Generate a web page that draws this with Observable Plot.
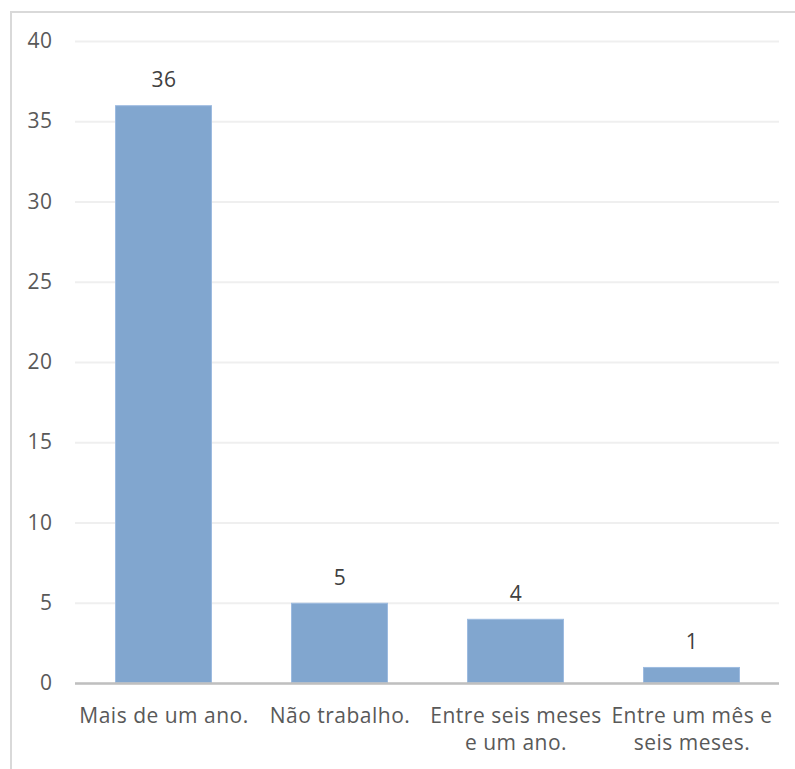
<!DOCTYPE html>
<html>
<head>
<meta charset="utf-8">
<script src="https://cdn.jsdelivr.net/npm/d3@7"></script>
<script src="https://cdn.jsdelivr.net/npm/@observablehq/plot@0.6"></script>
<style>
  html, body { margin: 0; padding: 0; background: #fff; }
  #wrap { position: relative; width: 795px; height: 769px; overflow: hidden; }
  #frame { position: absolute; left: 10px; top: 11px; width: 800px; height: 800px;
           border-left: 2px solid #d9d9d9; border-top: 2px solid #d9d9d9; box-sizing: border-box; }
  #chart { position: absolute; left: 0; top: 0; }
</style>
</head>
<body>
<div id="wrap"><div id="frame"></div><div id="chart"></div></div>
<script>
// Time working, number of respondents per answer
const categories = ["Mais de um ano.", "Não trabalho.", "Entre seis meses\ne um ano.", "Entre um mês e\nseis meses."];
const counts = [36, 5, 4, 1];
const yTicks = [0, 5, 10, 15, 20, 25, 30, 35, 40];

const data = categories.map((c, i) => ({category: c, count: counts[i]}));

const font = "'Open Sans', sans-serif";
const textColor = "#595959";

const chart = Plot.plot({
  width: 795,
  height: 769,
  marginLeft: 75,
  marginRight: 16,
  marginTop: 41,
  marginBottom: 86,
  style: {fontFamily: font, fontSize: "21px", letterSpacing: "0.5px", color: textColor, background: "transparent"},
  x: {domain: categories, paddingInner: 0.45, paddingOuter: 0.225, label: null},
  y: {domain: [0, 40], label: null},
  marks: [
    Plot.gridY(yTicks, {stroke: "#efefef", strokeOpacity: 1, strokeWidth: 2}),
    Plot.axisY(yTicks, {tickSize: 0, tickPadding: 23, fontSize: 21, fill: textColor, label: null}),
    Plot.axisX({tickSize: 0, tickPadding: 21, fontSize: 21, fill: textColor, lineHeight: 1.27, label: null}),
    Plot.barY(data, {x: "category", y: "count", fill: "#81a6cf", stroke: "#9dbbe0", strokeWidth: 1, inset: 0.5}),
    Plot.ruleY([0], {stroke: "#bfbfbf", strokeWidth: 2.5}),
    Plot.text(data, {x: "category", y: "count", text: d => String(d.count), dy: -25, fontSize: 21, fill: "#404040"})
  ]
});
document.getElementById("chart").appendChild(chart);
</script>
</body>
</html>
